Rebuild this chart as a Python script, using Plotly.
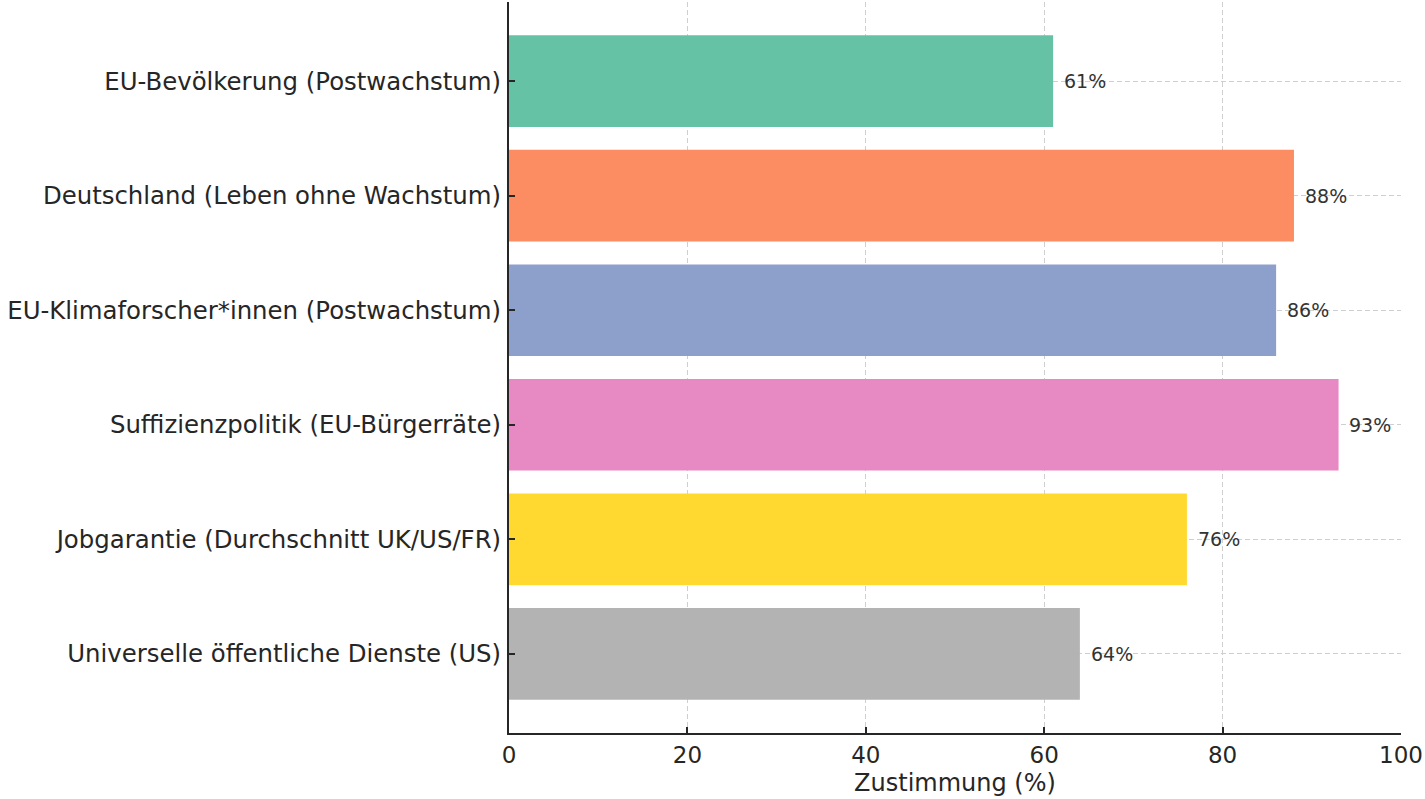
import plotly.graph_objects as go

categories = [
    "EU-Bevölkerung (Postwachstum)",
    "Deutschland (Leben ohne Wachstum)",
    "EU-Klimaforscher*innen (Postwachstum)",
    "Suffizienzpolitik (EU-Bürgerräte)",
    "Jobgarantie (Durchschnitt UK/US/FR)",
    "Universelle öffentliche Dienste (US)",
]
values = [61, 88, 86, 93, 76, 64]
colors = ["#66c2a5", "#fc8d62", "#8da0cb", "#e78ac3", "#ffd92f", "#b3b3b3"]
x_ticks = [0, 20, 40, 60, 80, 100]

font = "DejaVu Sans"
ypos = list(range(len(categories)))

fig = go.Figure()
fig.add_trace(go.Bar(
    x=values, y=ypos, orientation="h",
    marker=dict(color=colors, line=dict(width=0)),
    width=0.8, hoverinfo="x+y", showlegend=False,
))

for yi, v in zip(ypos, values):
    fig.add_annotation(x=v + 1, y=yi, text=f"{v}%", showarrow=False,
                       xanchor="left", yanchor="middle",
                       font=dict(family=font, size=19, color="#333333"))

fig.update_layout(
    width=1425, height=799,
    margin=dict(l=509, r=24, t=2, b=66, autoexpand=False),
    plot_bgcolor="white", paper_bgcolor="white",
    font=dict(family=font, color="#262626"),
    bargap=0.2,
)
fig.update_xaxes(
    range=[0, 100], tickvals=x_ticks, ticktext=[str(t) for t in x_ticks],
    tickfont=dict(size=23, color="#262626"),
    showgrid=True, gridcolor="#cfcfcf", griddash="5px,3px", gridwidth=1,
    showline=True, linecolor="#262626", linewidth=2,
    ticks="inside", ticklen=6, tickwidth=1.5, tickcolor="#262626",
    title=dict(text="Zustimmung (%)", font=dict(size=24, color="#262626"), standoff=8),
    zeroline=False, layer="above traces",
)
fig.update_yaxes(
    range=[5.69, -0.69], tickvals=ypos, ticktext=categories,
    tickfont=dict(size=24.4, color="#262626"),
    showgrid=True, gridcolor="#cfcfcf", griddash="5px,3px", gridwidth=1,
    showline=True, linecolor="#262626", linewidth=2,
    ticks="inside", ticklen=6, tickwidth=1.5, tickcolor="#262626",
    zeroline=False, layer="above traces", ticklabelstandoff=1,
)

fig.write_html("out.html")
